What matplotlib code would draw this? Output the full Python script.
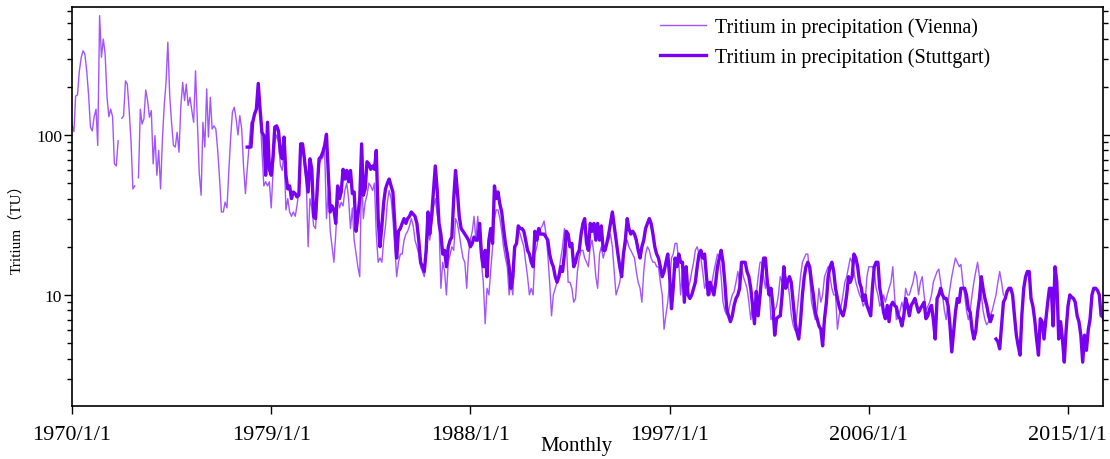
import numpy as np
import pandas as pd
import matplotlib
matplotlib.use("Agg")
import matplotlib.pyplot as plt
from matplotlib.ticker import LogLocator, NullFormatter, FixedLocator, FixedFormatter

nan = np.nan

# Monthly tritium in precipitation (TU)
vienna_start = "1970-01-01"
vienna_tu = [
    115, 105, 175, 178, 250, 305, 336, 320, 250, 178, 112, 106,
    130, 145, 86, 557, 306, 398, 321, 173, 130, 145, 130, 66,
    64, 92, nan, 127, 132, 218, 208, 142, 90, 46, 48, nan,
    54, 145, 117, 126, 191, 164, 129, 142, 66, 99, 56, 80,
    46, 95, 150, 213, 380, 176, 120, 86, 84, 104, 78, 150,
    213, 164, 208, 153, 172, 142, 120, 252, 120, 58, 42, 120,
    84, 194, 97, 172, 109, 114, 109, 80, 53, 33, 33, 38,
    35, 60, 94, 139, 149, 126, 100, 132, 109, 64, 43, 61,
    85, 120, 120, 135, 145, 200, 140, 80, 48, 51, 48, 51,
    35, 60, 90, 100, 90, 65, 60, 80, 34, 40, 33, 31,
    33, 31, 36, 45, 80, 85, 65, 52, 20, 40, 35, 27,
    26, 40, 66, 70, 72, 80, 30, 45, 25, 20, 16, 24,
    40, 35, 38, 36, 45, 50, 40, 26, 35, 22, 18, 15,
    13, 60, 30, 38, 42, 50, 48, 45, 50, 24, 16, 17,
    16, 22, 27, 38, 45, 40, 30, 20, 13, 16, 18, 18,
    22, 24, 25, 27, 30, 27, 22, 20, 18, 15, 14, 13,
    17, 25, 22, 28, 35, 40, 32, 28, 11, 16, 14, 10,
    16, 18, 20, 19, 30, 28, 24, 20, 17, 16, 11, 18,
    22, 25, 31, 22, 31, 22, 16, 12, 6.6, 11, 10, 14,
    20, 30, 34, 34, 30, 25, 20, 17, 15, 10, 12, 10,
    18, 22, 26, 24, 22, 20, 16, 13, 10, 11, 10, 18,
    20, 24, 26, 27, 29, 24, 18, 12, 7.4, 10, 11, 12,
    14, 17, 20, 26, 22, 12, 12, 11, 9, 9.5, 14, 17,
    19, 19, 17, 16, 15, 20, 22, 18, 13, 11, 18, 20,
    17, 19, 21, 22, 24, 20, 14, 10, 11, 12, 15, 18,
    20, 22, 20, 19, 18, 17, 14, 12, 11, 9, 14, 18,
    20, 19, 17, 16, 16, 15, 15, 12, 10, 6.1, 7.5, 9,
    12, 17, 18, 21, 21, 16, 10, 14, 11, 10, 11, 12,
    14, 16, 19, 20, 18, 17, 14, 11, 12, 11, 10, 12,
    14, 16, 18, 17, 13, 9, 8, 7.5, 8, 9, 10, 10.5,
    12, 14, 12, 15, 13, 12, 11, 9, 7, 9, 8, 10,
    13, 16, 16, 13, 11, 13, 11, 7, 7.5, 8, 8.5, 10,
    13, 12, 14, 13, 12, 10, 7.5, 6.5, 6, 7.5, 10, 13,
    16, 17, 18, 18, 13, 9, 8, 7, 8, 11, 9, 10,
    13, 14, 15, 13, 11, 10, 10, 6.1, 7.5, 8.5, 10, 12,
    13, 15, 17, 16, 14, 12, 11, 10, 9.5, 8.5, 9, 13,
    15, 15, 15, 14, 11, 10, 8.5, 9, 10, 9, 10, 11,
    12, 15, 10, 7, 7.2, 8, 9, 8, 11, 10, 10, 11,
    12, 14, 13, 10, 12, 13, 10, 8, 8.5, 9, 10, 12,
    13, 14, 14.5, 12, 10, 8, 7, 9, 11, 13, 15, 17,
    16, 15, 15.5, 12, 10, 8, 7, 8, 10, 12, 14, 16,
    13, 10, 8, 7, 6.5, 6.8, 7.5, 8, 9, 10, 12, 14,
    12, 10,
]

stuttgart_start = "1977-12-01"
stuttgart_tu = [
    84, 84, 84, 120, 135, 145, 210, 145, 104, 99, 56, 120,
    61, 56, 74, 112, 114, 106, 78, 71, 97, 56, 46, 48,
    40, 44, 43, 41, 42, 88, 88, 71, 56, 44, 71, 61,
    31, 30, 48, 71, 73, 78, 86, 101, 56, 33, 36, 34,
    28, 48, 40, 44, 61, 53, 60, 51, 60, 43, 44, 25,
    31, 40, 88, 42, 46, 68, 66, 61, 64, 61, 80, 30,
    20, 27, 38, 46, 50, 53, 48, 44, 28, 17, 25, 26,
    28, 30, 28, 30, 31, 33, 32, 31, 28, 22, 16, 15,
    14, 19, 33, 24, 31, 44, 64, 46, 28, 24, 18, 19,
    15, 20, 22, 23, 40, 60, 44, 31, 26, 25, 24, 23,
    22, 20, 21, 23, 22, 22, 28, 18, 15, 19, 13, 22,
    26, 21, 48, 40, 44, 37, 33, 26, 21, 18, 15, 11,
    13, 20, 21, 27, 26, 26, 25, 22, 19, 18, 16, 15,
    25, 22, 26, 24, 24, 24, 23, 22, 18, 16, 15, 13,
    12, 13, 15, 14, 18, 25, 24, 20, 21, 15, 16, 18,
    19, 24, 28, 30, 21, 19, 28, 25, 28, 22, 28, 22,
    27, 19, 19, 21, 24, 28, 33, 27, 22, 18, 15, 13,
    18, 22, 30, 26, 24, 25, 24, 22, 19, 17, 20, 22,
    26, 28, 30, 28, 24, 20, 18, 17, 15, 13, 14, 16,
    18, 13, 8.2, 11, 17, 15, 18, 16, 16, 9, 15, 10,
    9.5, 10, 11, 12, 15, 18, 19, 17, 18, 13, 10, 12,
    11, 10, 12, 15, 17, 19, 16, 12, 8.2, 7.4, 6.8, 7.4,
    8.6, 9.5, 10, 11, 16, 16, 16, 14, 13, 11, 8.6, 6.6,
    10.5, 7.4, 10, 13, 17, 17, 12, 10, 11, 8.6, 5.6, 7.1,
    7.3, 7.4, 10, 15, 11, 12, 13, 12, 9, 6.8, 5.9, 5.3,
    6.8, 10, 13, 15, 16, 15, 12, 10, 7.8, 7.1, 6.4, 6.1,
    4.8, 7.1, 9, 13, 15, 16, 14, 11, 9.5, 8.4, 7.8, 7.4,
    8.2, 10, 13, 12, 13, 18, 17, 15, 12, 11, 9.2, 10,
    8.6, 8, 7.4, 11, 15, 16, 16, 11, 9.5, 7.8, 7.1, 8.6,
    6.8, 8.6, 9, 8.6, 8.4, 7.4, 7.1, 6.4, 7.4, 9.5, 8.6, 7.4,
    8.6, 9, 9.5, 8.6, 7.8, 8.2, 8.6, 9, 7.1, 7.4, 8.2, 8.6,
    7, 5.3, 9.5, 10, 11, 10, 9.5, 9.5, 8.6, 6.5, 4.4, 5.9,
    7.8, 9.5, 9, 11, 11, 11, 10, 8.2, 7.8, 6.1, 5.3, 5.9,
    7.8, 9.5, 13, 11, 9.5, 8.6, 7.4, 6.8, 7.4, nan, 5.3, 5.1,
    4.6, 6.4, 9, 9.5, 10.5, 11, 11, 10, 7.4, 5.6, 4.8, 4.2,
    7.5, 11, 13, 14, 14, 9.5, 8.5, 7, 5.3, 4.2, 7.1, 6.8,
    5.3, 7, 9, 11, 11, 6.4, 15, 12, 5.3, 6.8, 5.3, 3.8,
    6, 8.5, 10, 9.7, 9.5, 9, 7.4, 6.8, 5.6, 3.8, 5.6, 4.5,
    6, 7.1, 10, 11, 11, 10.7, 10, 7.4, 7.4, 6.4, 5.6,
]

vienna_dates = pd.date_range(vienna_start, periods=len(vienna_tu), freq="MS")
stuttgart_dates = pd.date_range(stuttgart_start, periods=len(stuttgart_tu), freq="MS")

tick_dates = ["1970-01-01", "1979-01-01", "1988-01-01", "1997-01-01", "2006-01-01", "2015-01-01"]
tick_labels = ["1970/1/1", "1979/1/1", "1988/1/1", "1997/1/1", "2006/1/1", "2015/1/1"]

plt.rcParams["font.family"] = ["Liberation Serif", "DejaVu Serif"]

fig = plt.figure(figsize=(11.1, 4.6), dpi=100)
ax = fig.add_axes([0.0649, 0.1152, 0.9288, 0.8674])

ax.plot(vienna_dates, vienna_tu, color="#a255ff", lw=1.0,
        label="Tritium in precipitation (Vienna)")
ax.plot(stuttgart_dates, stuttgart_tu, color="#7a00f2", lw=2.4,
        label="Tritium in precipitation (Stuttgart)")

ax.set_yscale("log")
ax.set_ylim(2.02, 631)
ax.set_xlim(pd.Timestamp("1970-01-01"), pd.Timestamp("2016-08-01"))

ax.yaxis.set_major_locator(FixedLocator([10, 100]))
ax.yaxis.set_major_formatter(FixedFormatter(["10", "100"]))
ax.yaxis.set_minor_locator(LogLocator(base=10, subs=np.arange(2, 10)))
ax.yaxis.set_minor_formatter(NullFormatter())

ax.set_xticks([pd.Timestamp(d) for d in tick_dates])
ax.set_xticklabels(tick_labels)

ax.tick_params(axis="both", which="major", direction="out", length=6, width=1.0,
               colors="black")
ax.tick_params(axis="x", which="major", labelsize=16, pad=8)
ax.tick_params(axis="y", which="major", labelsize=12.5, pad=1)
ax.tick_params(axis="y", which="minor", direction="out", length=3.5, width=1.0)
ax.tick_params(axis="y", which="both", right=True)

for s in ax.spines.values():
    s.set_linewidth(1.2)

ax.set_xlabel("Monthly", fontsize=15)
ax.xaxis.set_label_coords(0.489, -0.075)
ax.set_ylabel("Tritium（TU）", fontsize=11, family=["Liberation Serif", "Noto Sans CJK SC"])
ax.yaxis.set_label_coords(-0.047, 0.455)

ax.legend(loc="upper right", frameon=False, fontsize=14.5, handlelength=2.3,
          bbox_to_anchor=(0.908, 1.02), labelspacing=0.5, handletextpad=0.45)

fig.savefig("out.png", dpi=100)
